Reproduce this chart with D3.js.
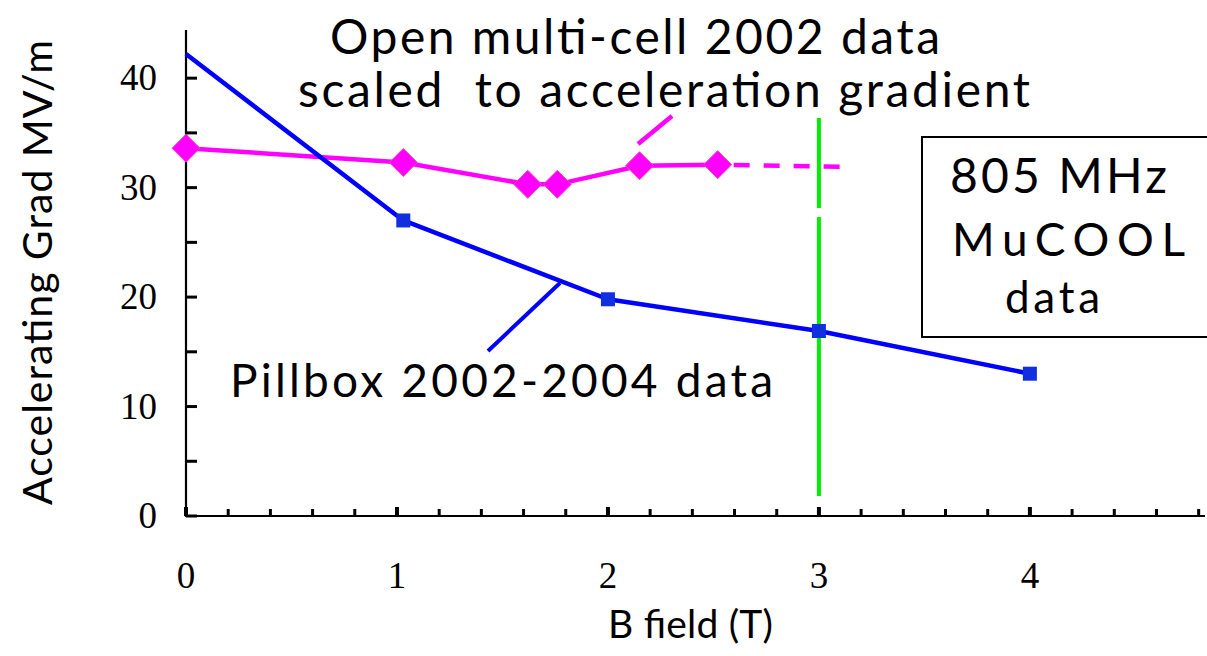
<!DOCTYPE html>
<html>
<head>
<meta charset="utf-8" />
<title>MuCOOL gradient vs B field</title>
<script src="https://cdn.jsdelivr.net/npm/d3@7"></script>
<style>
  body { margin: 0; background: #fff; }
  text { font-family: Lato, "Open Sans", sans-serif; }
  .tick-label { font-family: "Liberation Serif", "DejaVu Serif", serif; }
</style>
</head>
<body>
<svg id="chart" width="1207" height="656"></svg>
<script>
// data
var pillboxB    = [0, 1.03, 2.0, 3.0, 4.0];
var pillboxGrad = [42.2, 27.0, 19.8, 16.9, 13.0];
var pillboxMarked = [false, true, true, true, true];

var openB    = [0, 1.03, 1.62, 1.76, 2.15, 2.52];
var openGrad = [33.6, 32.3, 30.3, 30.3, 32.0, 32.1];
var openExtB = [2.52, 3.15];        // dashed extrapolation
var openExtGrad = [32.1, 31.9];

var xTicks = [0, 1, 2, 3, 4];
var yTicks = [0, 10, 20, 30, 40];
var markerB = 3;                     // green line

var svg = d3.select("#chart");

var x = d3.scaleLinear().domain([0, 4.83]).range([186, 1205]);
var y = d3.scaleLinear().domain([0, 44.4]).range([516, 30]);

// stretch a text to a given width by its letter spacing
function fit(t, w) {
  t.attr("textLength", w).attr("lengthAdjust", "spacing");
  return t;
}

// ---- axes ----
var xMinor = d3.range(0, 4.81, 0.2);
var yMinor = d3.range(0, 44.01, 5);

var ax = svg.append("g");
ax.append("line").attr("x1", x(0)).attr("x2", x(4.83)).attr("y1", y(0)).attr("y2", y(0))
  .attr("stroke", "#000").attr("stroke-width", 2.2);
ax.append("line").attr("x1", x(0)).attr("x2", x(0)).attr("y1", y(0) + 1).attr("y2", y(44.4))
  .attr("stroke", "#000").attr("stroke-width", 2.2);

ax.selectAll(".xt").data(xMinor).enter().append("line")
  .attr("x1", function (d) { return x(d); }).attr("x2", function (d) { return x(d); })
  .attr("y1", y(0)).attr("y2", function (d) { return y(0) - (Math.abs(d - Math.round(d)) < 1e-6 ? 9 : 7); })
  .attr("stroke", "#000")
  .attr("stroke-width", function (d) { return Math.abs(d - Math.round(d)) < 1e-6 ? 4 : 3; });

ax.selectAll(".yt").data(yMinor).enter().append("line")
  .attr("y1", function (d) { return y(d); }).attr("y2", function (d) { return y(d); })
  .attr("x1", x(0)).attr("x2", x(0) + 11)
  .attr("stroke", "#000").attr("stroke-width", 3);

ax.selectAll(".xl").data(xTicks).enter().append("text")
  .attr("class", "tick-label")
  .attr("x", function (d) { return x(d); }).attr("y", 588)
  .attr("text-anchor", "middle").attr("font-size", 37)
  .text(function (d) { return d; });

ax.selectAll(".yl").data(yTicks).enter().append("text")
  .attr("class", "tick-label")
  .attr("x", 157).attr("y", function (d) { return y(d) + 12; })
  .attr("text-anchor", "end").attr("font-size", 37)
  .text(function (d) { return d; });

// axis titles
var yl = svg.append("text")
  .attr("transform", "translate(52,505) rotate(-90)")
  .attr("font-size", 41)
  .text("Accelerating Grad MV/m");
fit(yl, 465);

var xl = svg.append("text")
  .attr("x", 608).attr("y", 638)
  .attr("font-size", 39)
  .text("B field (T)");
fit(xl, 165);

// ---- green line at 3 T ----
svg.append("line").attr("x1", x(markerB)).attr("x2", x(markerB))
  .attr("y1", 118).attr("y2", 208).attr("stroke", "#00ee00").attr("stroke-width", 4);
svg.append("line").attr("x1", x(markerB)).attr("x2", x(markerB))
  .attr("y1", 217).attr("y2", 496).attr("stroke", "#00ee00").attr("stroke-width", 4);

// ---- series ----
var openPts = openB.map(function (b, i) { return [b, openGrad[i]]; });
var pillPts = pillboxB.map(function (b, i) { return [b, pillboxGrad[i]]; });

var line = d3.line().x(function (d) { return x(d[0]); }).y(function (d) { return y(d[1]); });

svg.append("path")
  .attr("d", line(openExtB.map(function (b, i) { return [b, openExtGrad[i]]; })))
  .attr("fill", "none").attr("stroke", "#ff00ff").attr("stroke-width", 4.5)
  .attr("stroke-dasharray", "16,14").attr("stroke-dashoffset", -16);

svg.append("path").attr("d", line(openPts))
  .attr("fill", "none").attr("stroke", "#ff00ff").attr("stroke-width", 4.5);

svg.selectAll(".dia").data(openPts).enter().append("path")
  .attr("transform", function (d) { return "translate(" + x(d[0]) + "," + y(d[1]) + ")"; })
  .attr("d", "M0,-14L14,0L0,14L-14,0Z")
  .attr("fill", "#ff00ff").attr("stroke", "#ff40c0").attr("stroke-width", 1);

svg.append("path").attr("d", line(pillPts))
  .attr("fill", "none").attr("stroke", "#0000ff").attr("stroke-width", 4.5)
  .attr("stroke-linejoin", "round");

svg.selectAll(".sq").data(pillPts.filter(function (d, i) { return pillboxMarked[i]; })).enter().append("rect")
  .attr("x", function (d) { return x(d[0]) - 7; }).attr("y", function (d) { return y(d[1]) - 7; })
  .attr("width", 14).attr("height", 14)
  .attr("fill", "#1030e0");

// ---- annotations ----
var t1 = svg.append("text").attr("x", 330).attr("y", 54).attr("font-size", 48)
  .text("Open multi-cell 2002 data");
fit(t1, 610);
var t2 = svg.append("text").attr("x", 298).attr("y", 107).attr("font-size", 48)
  .style("white-space", "pre")
  .text("scaled  to acceleration gradient");
fit(t2, 732);
svg.append("line").attr("x1", 638).attr("y1", 144).attr("x2", 672).attr("y2", 116)
  .attr("stroke", "#ff00ff").attr("stroke-width", 4.5);

var t3 = svg.append("text").attr("x", 230).attr("y", 397).attr("font-size", 46)
  .text("Pillbox 2002-2004 data");
fit(t3, 543);
svg.append("line").attr("x1", 488).attr("y1", 351).attr("x2", 560).attr("y2", 283)
  .attr("stroke", "#0000ff").attr("stroke-width", 4);

// legend box
svg.append("rect").attr("x", 922).attr("y", 137).attr("width", 300).attr("height", 200)
  .attr("fill", "none").attr("stroke", "#000").attr("stroke-width", 2);
var l1 = svg.append("text").attr("x", 950).attr("y", 193).attr("font-size", 48).text("805 MHz");
fit(l1, 217);
var l2 = svg.append("text").attr("x", 952).attr("y", 256).attr("font-size", 46).text("MuCOOL");
fit(l2, 233);
var l3 = svg.append("text").attr("x", 1005).attr("y", 313).attr("font-size", 44).text("data");
fit(l3, 95);
</script>
</body>
</html>
